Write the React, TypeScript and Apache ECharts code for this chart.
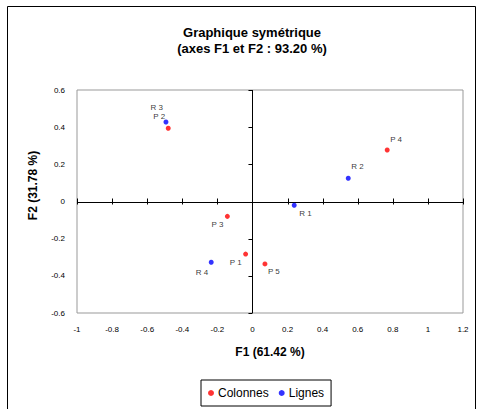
import React, { useEffect, useRef } from "react";
import * as echarts from "echarts";

const colonnesNames = ["P 1", "P 2", "P 3", "P 4", "P 5"];
const colonnesX = [-0.039, -0.48, -0.143, 0.768, 0.071];
const colonnesY = [-0.283, 0.394, -0.08, 0.277, -0.336];

const lignesNames = ["R 1", "R 2", "R 3", "R 4"];
const lignesX = [0.238, 0.546, -0.493, -0.235];
const lignesY = [-0.02, 0.125, 0.428, -0.327];

const xTicks = [-1, -0.8, -0.6, -0.4, -0.2, 0, 0.2, 0.4, 0.6, 0.8, 1, 1.2];
const yTicks = [-0.6, -0.4, -0.2, 0, 0.2, 0.4, 0.6];

const labelStyle: Record<string, { align: string; offset: number[] }> = {
  "P 1": { align: "right", offset: [-4, 8] },
  "P 2": { align: "right", offset: [-3, -12] },
  "P 3": { align: "right", offset: [-4, 8] },
  "P 4": { align: "left", offset: [3, -11] },
  "P 5": { align: "left", offset: [3, 8] },
  "R 1": { align: "left", offset: [5, 8] },
  "R 2": { align: "left", offset: [3, -12] },
  "R 3": { align: "right", offset: [-3, -14] },
  "R 4": { align: "right", offset: [-3, 10] },
};

const FONT = "'Liberation Sans', Arial, sans-serif";

function points(names: string[], xs: number[], ys: number[]) {
  return names.map((n, i) => {
    const ls = labelStyle[n];
    return {
      name: n,
      value: [xs[i], ys[i]],
      label: {
        show: true,
        position: "inside",
        align: ls.align,
        verticalAlign: "middle",
        offset: ls.offset,
        formatter: n,
        color: "#000",
        textBorderWidth: 0,
        textBorderColor: "transparent",
        fontSize: 8,
        fontFamily: FONT,
      },
    };
  });
}

export default function App() {
  const ref = useRef<HTMLDivElement>(null);
  useEffect(() => {
    if (!ref.current) return;
    const chart = echarts.init(ref.current, undefined, { renderer: "svg" });
    const xMin = xTicks[0];
    const xMax = xTicks[xTicks.length - 1];
    const yMin = yTicks[0];
    const yMax = yTicks[yTicks.length - 1];
    chart.setOption({
      animation: false,
      backgroundColor: "#fff",
      title: {
        text: "Graphique symétrique\n(axes F1 et F2 : 93.20 %)",
        left: 247,
        top: 19,
        textAlign: "center",
        textStyle: {
          fontFamily: FONT,
          fontSize: 13,
          fontWeight: "bold",
          color: "#000",
          lineHeight: 16,
        },
      },
      graphic: [
        {
          type: "rect",
          shape: { x: 7.5, y: 6.5, width: 468, height: 420 },
          style: { fill: "none", stroke: "#000", lineWidth: 1 },
          silent: true,
        },
      ],
      legend: {
        data: ["Colonnes", "Lignes"],
        left: 201,
        top: 380,
        orient: "horizontal",
        padding: [7, 7, 7, 7],
        itemGap: 10,
        itemWidth: 6,
        itemHeight: 6,
        icon: "circle",
        borderColor: "#000",
        borderWidth: 1,
        textStyle: { fontFamily: FONT, fontSize: 12, color: "#000", padding: [0, 0, 0, -1] },
      },
      grid: {
        left: 77,
        top: 90,
        width: 386,
        height: 223,
        show: true,
        borderColor: "#999",
        borderWidth: 1,
      },
      xAxis: {
        type: "value",
        min: xMin,
        max: xMax,
        interval: 0.2,
        name: "F1 (61.42 %)",
        nameLocation: "middle",
        nameGap: 33,
        nameTextStyle: { fontFamily: FONT, fontSize: 12, fontWeight: "bold", color: "#000" },
        axisLine: { show: false, onZero: false },
        axisTick: { show: false },
        splitLine: { show: false },
        axisLabel: {
          margin: 12,
          fontFamily: FONT,
          fontSize: 8,
          color: "#000",
          formatter: (v: number) => String(Math.round(v * 10) / 10),
        },
      },
      yAxis: {
        type: "value",
        min: yMin,
        max: yMax,
        interval: 0.2,
        name: "F2 (31.78 %)",
        nameLocation: "middle",
        nameGap: 38,
        nameTextStyle: {
          fontFamily: FONT,
          fontSize: 12,
          fontWeight: "bold",
          color: "#000",
          padding: [0, 0, 0, 32],
        },
        axisLine: { show: false, onZero: false },
        axisTick: { show: false },
        splitLine: { show: false },
        axisLabel: {
          margin: 12,
          fontFamily: FONT,
          fontSize: 8,
          color: "#000",
          formatter: (v: number) => String(Math.round(v * 10) / 10),
        },
      },
      series: [
        {
          type: "custom",
          name: "axes",
          silent: true,
          z: 1,
          data: [[0, 0]],
          renderItem: (_p: any, api: any) => {
            const children: any[] = [];
            const a = api.coord([xMin, 0]);
            const b = api.coord([xMax, 0]);
            const c = api.coord([0, yMin]);
            const d = api.coord([0, yMax]);
            const st = { stroke: "#000", lineWidth: 1 };
            children.push({ type: "line", shape: { x1: a[0], y1: Math.round(a[1]) + 0.5, x2: b[0], y2: Math.round(b[1]) + 0.5 }, style: st });
            children.push({ type: "line", shape: { x1: Math.round(c[0]) + 0.5, y1: c[1], x2: Math.round(d[0]) + 0.5, y2: d[1] }, style: st });
            xTicks.forEach((v) => {
              const p = api.coord([v, 0]);
              const x = Math.round(p[0]) + 0.5;
              children.push({ type: "line", shape: { x1: x, y1: p[1] - 3, x2: x, y2: p[1] + 3 }, style: st });
            });
            yTicks.forEach((v) => {
              const p = api.coord([0, v]);
              const y = Math.round(p[1]) + 0.5;
              children.push({ type: "line", shape: { x1: p[0] - 4, y1: y, x2: p[0], y2: y }, style: st });
            });
            return { type: "group", children };
          },
        },
        {
          type: "scatter",
          name: "Colonnes",
          z: 3,
          symbol: "circle",
          symbolSize: 5,
          itemStyle: { color: "#ff0000" },
          data: points(colonnesNames, colonnesX, colonnesY),
        },
        {
          type: "scatter",
          name: "Lignes",
          z: 3,
          symbol: "circle",
          symbolSize: 5,
          itemStyle: { color: "#0000ff" },
          data: points(lignesNames, lignesX, lignesY),
        },
      ],
    });
    return () => chart.dispose();
  }, []);
  return (
    <div
      ref={ref}
      style={{ position: "fixed", left: 0, top: 0, width: 480, height: 409 }}
    />
  );
}
